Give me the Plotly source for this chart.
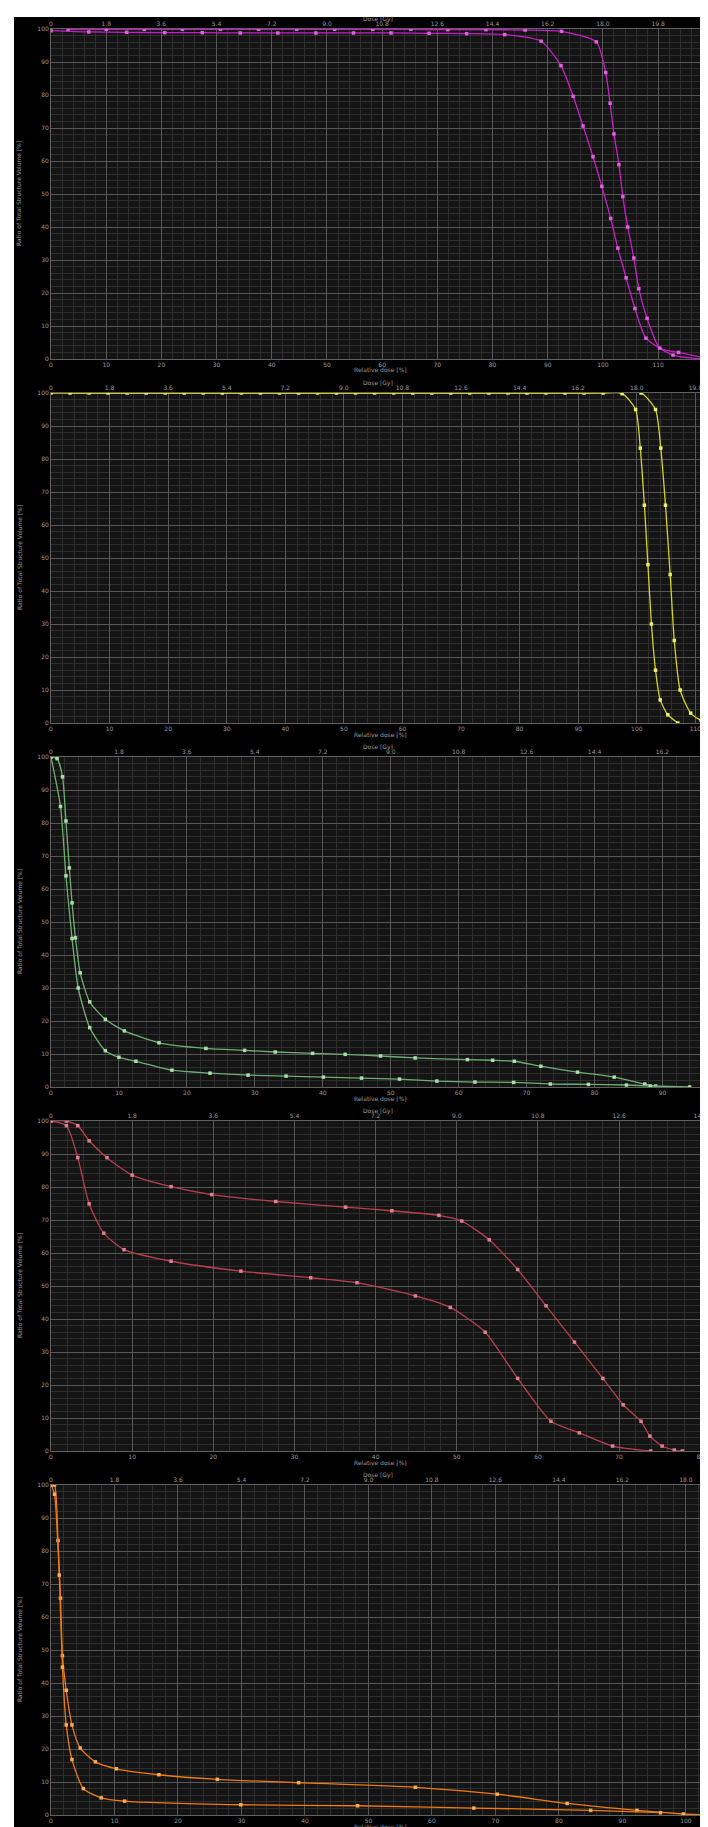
import plotly.graph_objects as go

# ---------------- data ----------------
# Panel 1 (magenta)
p1_a_x = [0, 6.85, 13.7, 20.6, 27.4, 34.3, 41.1, 48.0, 54.8, 61.6, 68.5, 75.3, 82.2, 88.8, 92.4, 94.6, 96.4, 98.2, 99.8, 101.4, 102.7, 104.2, 105.8, 107.8, 112.7, 118.0]
p1_a_y = [99.5, 99.1, 99.0, 98.9, 98.9, 98.8, 98.8, 98.8, 98.8, 98.8, 98.7, 98.6, 98.3, 96.3, 88.9, 79.6, 70.6, 61.3, 52.3, 42.6, 33.6, 24.6, 15.3, 6.3, 1.2, 0.0]
p1_b_x = [3.1, 10.0, 16.9, 23.8, 30.7, 37.6, 44.5, 51.4, 58.3, 65.2, 71.9, 78.8, 85.9, 92.5, 98.8, 100.5, 101.3, 102.0, 102.9, 103.6, 104.5, 105.6, 106.5, 108.0, 110.3, 113.7, 119.4]
p1_b_y = [99.9, 99.9, 99.9, 99.9, 99.9, 99.9, 99.9, 99.9, 99.9, 99.9, 99.8, 99.8, 99.7, 99.3, 96.1, 86.8, 77.5, 68.2, 58.9, 49.2, 40.0, 30.6, 21.3, 12.3, 3.3, 2.0, 0.0]

# Panel 2 (yellow)
p2_a_x = [0, 6.5, 13, 19.5, 26, 32.5, 39, 45.5, 52, 58.5, 65, 71.5, 78, 84.5, 91, 97.5, 99.8, 100.6, 101.3, 101.9, 102.5, 103.2, 104.0, 105.3, 107.0]
p2_a_y = [100, 100, 100, 100, 100, 100, 100, 100, 100, 100, 100, 100, 100, 100, 100, 99.8, 95.0, 83.3, 66.0, 48.0, 30.0, 16.0, 7.0, 2.5, 0.0]
p2_b_x = [3.25, 9.75, 16.25, 22.75, 29.25, 35.75, 42.25, 48.75, 55.25, 61.75, 68.25, 74.75, 81.25, 87.75, 94.25, 100.75, 103.2, 104.1, 104.9, 105.7, 106.4, 107.4, 109.2, 111.0, 112.3]
p2_b_y = [100, 100, 100, 100, 100, 100, 100, 100, 100, 100, 100, 100, 100, 100, 100, 100, 95.0, 83.3, 66.0, 45.0, 25.0, 10.0, 3.0, 0.8, 0.0]

# Panel 3 (green)
p3_a_x = [0, 0.9, 1.7, 2.2, 2.7, 3.1, 3.6, 4.3, 5.7, 8.0, 10.8, 15.9, 22.8, 28.5, 33.0, 38.5, 43.3, 48.5, 53.6, 61.3, 65.0, 68.2, 72.1, 77.5, 82.9, 87.4, 89.0]
p3_a_y = [100, 99.5, 94, 80.6, 66.4, 55.8, 45.2, 34.6, 25.8, 20.5, 17.0, 13.4, 11.7, 11.1, 10.6, 10.2, 9.9, 9.4, 8.8, 8.3, 8.1, 7.8, 6.3, 4.5, 3.0, 0.9, 0.3]
p3_b_x = [0, 1.4, 2.2, 3.1, 4.0, 5.7, 8.0, 10.0, 12.5, 17.8, 23.4, 29.0, 34.6, 40.1, 45.7, 51.3, 56.8, 62.4, 68.1, 73.5, 79.1, 84.7, 88.2, 94.0]
p3_b_y = [100, 85, 64, 45, 30, 18, 11, 9.0, 7.8, 5.1, 4.2, 3.6, 3.3, 3.0, 2.7, 2.4, 1.8, 1.5, 1.4, 0.9, 0.8, 0.6, 0.3, 0.0]

# Panel 4 (red)
p4_a_x = [0, 1.9, 3.3, 4.7, 6.9, 10, 14.8, 19.8, 27.7, 36.3, 42, 47.8, 50.6, 54.0, 57.5, 61.0, 64.5, 68.0, 70.5, 72.7, 73.8, 75.3, 76.8, 77.8]
p4_a_y = [100, 100, 98.6, 94, 88.9, 83.6, 80.1, 77.7, 75.6, 73.9, 72.8, 71.4, 69.7, 64.0, 55.0, 44.0, 33.0, 22.0, 14.0, 9.0, 4.5, 1.5, 0.3, 0]
p4_b_x = [0, 1.9, 3.3, 4.7, 6.5, 9, 14.8, 23.4, 32.0, 37.7, 44.9, 49.2, 53.5, 57.5, 61.6, 65.1, 69.2, 73.9]
p4_b_y = [100, 98.6, 88.9, 74.9, 66.0, 61, 57.5, 54.5, 52.5, 51.0, 47.0, 43.5, 36.0, 22.0, 9.0, 5.5, 1.5, 0]

# Panel 5 (orange)
p5_a_x = [0, 0.55, 1.1, 1.5, 1.8, 2.4, 3.3, 4.6, 7.0, 10.3, 17, 26.2, 39, 57.4, 70.3, 81.3, 92.3, 99.6, 103.3]
p5_a_y = [100, 100, 83.2, 65.7, 48.3, 37.8, 27.3, 20.3, 16.1, 14, 12.2, 10.8, 9.8, 8.4, 6.3, 3.5, 1.4, 0.3, 0]
p5_b_x = [0, 0.55, 1.3, 1.8, 2.4, 3.3, 5.1, 7.9, 11.6, 29.9, 48.3, 66.6, 85.0, 96.0]
p5_b_y = [100, 97.2, 72.7, 44.8, 27.3, 16.8, 8.0, 5.2, 4.2, 3.1, 2.8, 2.1, 1.4, 0.7]

# axis ranges (relative dose %) and tick labels
x_max = [119.4, 112.5, 97.0, 81.2, 103.8]
bottom_ticks = [
    [0, 10, 20, 30, 40, 50, 60, 70, 80, 90, 100, 110],
    [0, 10, 20, 30, 40, 50, 60, 70, 80, 90, 100, 110],
    [0, 10, 20, 30, 40, 50, 60, 70, 80, 90],
    [0, 10, 20, 30, 40, 50, 60, 70, 80],
    [0, 10, 20, 30, 40, 50, 60, 70, 80, 90, 100],
]
top_labels = [
    ["0", "1.8", "3.6", "5.4", "7.2", "9.0", "10.8", "12.6", "14.4", "16.2", "18.0", "19.8"],
    ["0", "1.8", "3.6", "5.4", "7.2", "9.0", "10.8", "12.6", "14.4", "16.2", "18.0", "19.8"],
    ["0", "1.8", "3.6", "5.4", "7.2", "9.0", "10.8", "12.6", "14.4", "16.2"],
    ["0", "1.8", "3.6", "5.4", "7.2", "9.0", "10.8", "12.6", "14.4"],
    ["0", "1.8", "3.6", "5.4", "7.2", "9.0", "10.8", "12.6", "14.4", "16.2", "18.0"],
]
y_ticks = [0, 10, 20, 30, 40, 50, 60, 70, 80, 90, 100]
x_title = "Relative dose [%]"
top_title = "Dose [Gy]"
y_title = "Ratio of Total Structure Volume [%]"

panels = [
    (p1_a_x, p1_a_y, p1_b_x, p1_b_y, "#c81ec8", "#e060e0"),
    (p2_a_x, p2_a_y, p2_b_x, p2_b_y, "#d4d41c", "#eeee66"),
    (p3_a_x, p3_a_y, p3_b_x, p3_b_y, "#6fae72", "#a8e0a8"),
    (p4_a_x, p4_a_y, p4_b_x, p4_b_y, "#b8404e", "#e08090"),
    (p5_a_x, p5_a_y, p5_b_x, p5_b_y, "#ee7a12", "#ffaa55"),
]

# ---------------- layout geometry ----------------
W, H = 708, 1827
ML, MR, MT, MB = 43, 6, 21, 20
PW = W - ML - MR
PH = H - MT - MB
PANEL_H = 330
PITCH = 364.0

FONT = "DejaVu Sans"
FS = 6
TICK_COL = "#9a9a9a"
GRID_MAJ = "#575757"
GRID_MIN = "#2e2e2e"


def px_x(p):
    return (p - ML) / PW


def px_y(p):
    return 1 - (p - MT) / PH


fig = go.Figure()
layout = dict(
    width=W, height=H,
    margin=dict(l=ML, r=MR, t=MT, b=MB, pad=0),
    paper_bgcolor="black",
    plot_bgcolor="#141414",
    showlegend=False,
    font=dict(family=FONT, size=FS, color=TICK_COL),
)
annotations = []

for i, (ax, ay, bx, by, col, mcol) in enumerate(panels):
    k = i + 1
    kt = i + 6
    top_px = MT + PITCH * i
    bot_px = top_px + PANEL_H
    d1 = px_y(top_px)
    d0 = px_y(bot_px)
    xn = "x" if k == 1 else f"x{k}"
    yn = "y" if k == 1 else f"y{k}"
    xtn = f"x{kt}"
    rng = [0, x_max[i]]

    layout[f"xaxis{'' if k == 1 else k}"] = dict(
        domain=[0, 1], anchor=yn, range=rng, side="bottom",
        tickvals=bottom_ticks[i], ticktext=[str(v) for v in bottom_ticks[i]],
        showgrid=True, gridcolor=GRID_MAJ, gridwidth=1,
        minor=dict(dtick=2, showgrid=True, gridcolor=GRID_MIN, gridwidth=1, ticks=""),
        showline=True, linecolor="#5f5f5f", linewidth=1, mirror=False,
        ticks="", tickfont=dict(size=FS, color=TICK_COL), zeroline=False,
        fixedrange=True,
    )
    layout[f"xaxis{kt}"] = dict(
        overlaying=xn, anchor=yn, side="top", range=rng,
        tickvals=bottom_ticks[i], ticktext=top_labels[i],
        showgrid=False, showline=True, linecolor="#5f5f5f", linewidth=1,
        ticks="", tickfont=dict(size=FS, color=TICK_COL), zeroline=False,
        fixedrange=True,
    )
    layout[f"yaxis{'' if k == 1 else k}"] = dict(
        domain=[d0, d1], anchor=xn, range=[0, 100],
        tickvals=y_ticks, ticktext=[str(v) for v in y_ticks],
        showgrid=True, gridcolor=GRID_MAJ, gridwidth=1,
        minor=dict(dtick=2, showgrid=True, gridcolor=GRID_MIN, gridwidth=1, ticks=""),
        showline=True, linecolor="#5f5f5f", linewidth=1, mirror=True,
        ticks="", tickfont=dict(size=FS, color=TICK_COL), zeroline=False,
        fixedrange=True,
    )

    # axis titles as annotations (exact pixel placement)
    annotations.append(dict(text=x_title, xref="paper", yref="paper",
                            x=px_x(372), y=px_y(bot_px + 11), xanchor="center", yanchor="middle",
                            showarrow=False, font=dict(size=FS, color=TICK_COL)))
    annotations.append(dict(text=top_title, xref="paper", yref="paper",
                            x=px_x(370), y=px_y(top_px - 10), xanchor="center", yanchor="middle",
                            showarrow=False, font=dict(size=FS, color=TICK_COL)))
    annotations.append(dict(text=y_title, xref="paper", yref="paper", textangle=-90,
                            x=px_x(11), y=px_y((top_px + bot_px) / 2), xanchor="center", yanchor="middle",
                            showarrow=False, font=dict(size=FS, color=TICK_COL)))

    for (xs, ys, xa) in ((ax, ay, xn), (bx, by, xtn)):
        fig.add_trace(go.Scatter(
            x=xs, y=ys, xaxis=xa, yaxis=yn, mode="lines+markers",
            line=dict(color=col, width=1.3, shape="spline", smoothing=0.6),
            marker=dict(color=mcol, size=3.5, symbol="square", line=dict(width=0)),
            cliponaxis=True, hoverinfo="skip",
        ))

# white strips at the top and left edge of the page
layout["shapes"] = [
    dict(type="rect", xref="paper", yref="paper", x0=px_x(0), x1=px_x(6), y0=px_y(H), y1=px_y(0),
         fillcolor="white", line=dict(width=0), layer="above"),
    dict(type="rect", xref="paper", yref="paper", x0=px_x(0), x1=px_x(W), y0=px_y(9), y1=px_y(0),
         fillcolor="white", line=dict(width=0), layer="above"),
]
layout["annotations"] = annotations

fig.update_layout(**layout)
fig.write_html("out.html")
